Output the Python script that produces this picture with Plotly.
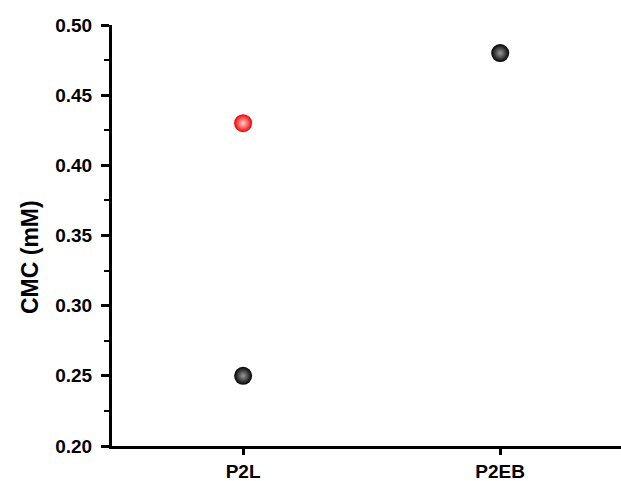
import plotly.graph_objects as go

categories = ["P2L", "P2EB"]
x_black = ["P2L", "P2EB"]
y_black = [0.25, 0.48]
x_red = ["P2L"]
y_red = [0.43]
y_ticks = [0.20, 0.25, 0.30, 0.35, 0.40, 0.45, 0.50]

fig = go.Figure()
fig.add_trace(go.Scatter(
    x=x_black, y=y_black, mode="markers",
    marker=dict(size=18, color="#000000", line=dict(width=0),
                gradient=dict(type="radial", color="#9a9a9a")),
    showlegend=False))
fig.add_trace(go.Scatter(
    x=x_red, y=y_red, mode="markers",
    marker=dict(size=18, color="#f00000", line=dict(width=0),
                gradient=dict(type="radial", color="#ffd0d0")),
    showlegend=False))

font_family = "Liberation Sans, Arial, sans-serif"
fig.update_layout(
    width=621, height=481,
    margin=dict(l=112, r=0, t=25, b=35),
    paper_bgcolor="white", plot_bgcolor="white",
    font=dict(family=font_family, size=19, color="black"),
    xaxis=dict(
        type="category", categoryorder="array", categoryarray=categories,
        range=[-0.51, 1.47],
        showline=True, linecolor="black", linewidth=3,
        ticks="outside", ticklen=6, tickwidth=2.5, tickcolor="black",
        showgrid=False, zeroline=False,
        tickfont=dict(family=font_family, size=19, color="black", weight="bold"),
    ),
    yaxis=dict(
        range=[0.20, 0.50],
        tickvals=y_ticks, ticktext=[f"{v:.2f}" for v in y_ticks],
        showline=True, linecolor="black", linewidth=3,
        ticks="outside", ticklen=8, tickwidth=2.5, tickcolor="black",
        ticklabelstandoff=5,
        minor=dict(dtick=0.025, tick0=0.2, ticks="outside", ticklen=5, tickwidth=2, tickcolor="black"),
        showgrid=False, zeroline=False,
        tickfont=dict(family=font_family, size=19, color="black", weight="bold"),
    ),
    annotations=[dict(
        text="CMC (mM)", textangle=-90, xref="paper", yref="paper",
        x=-0.161, y=0.449, xanchor="center", yanchor="middle", showarrow=False,
        font=dict(family=font_family, size=23, color="black", weight="bold"),
    )],
)

fig.write_html("out.html", config={"displayModeBar": False},
               post_script="document.body.style.margin='0';")
